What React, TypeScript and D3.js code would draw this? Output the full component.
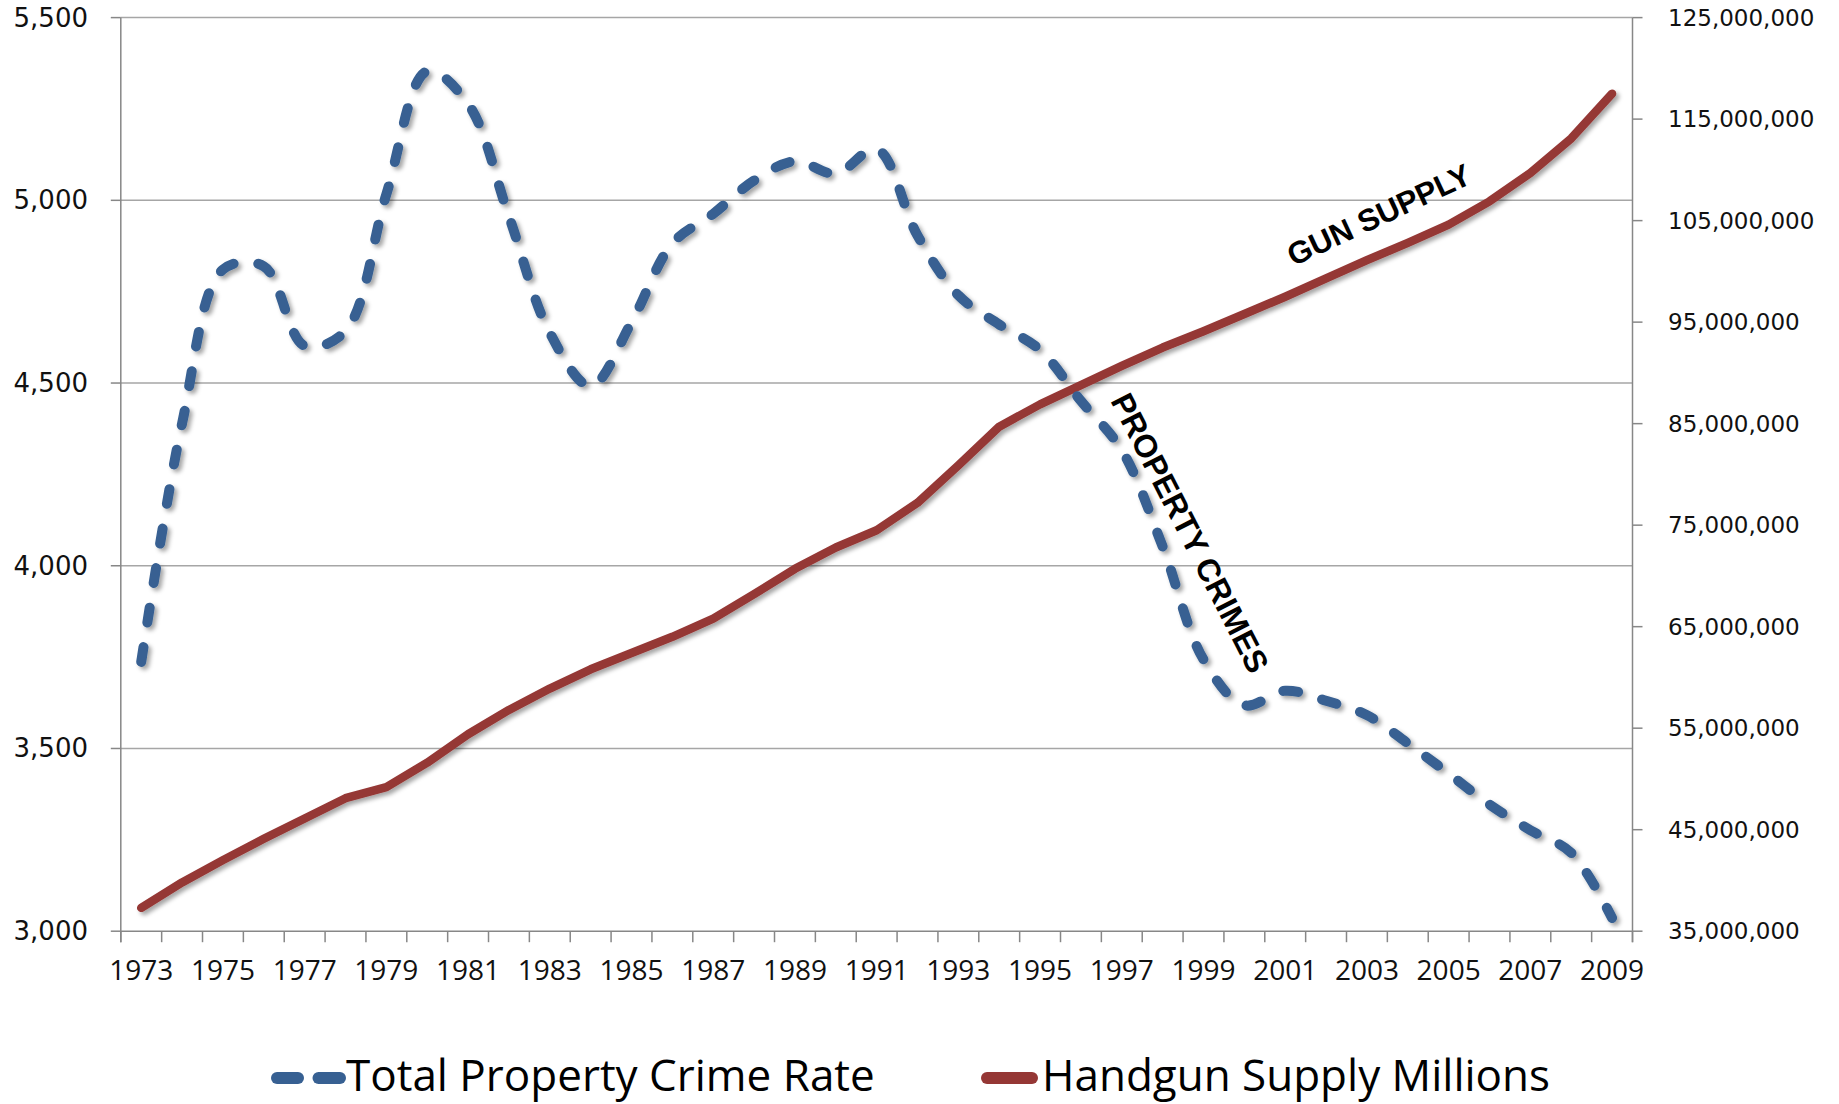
import React from "react";
import * as d3 from "d3";

const years: number[] = d3.range(1973, 2010);
const crimeRate: number[] = [
  3737.0, 4389.3, 4810.7, 4819.5, 4601.7, 4642.5, 5016.6, 5353.3, 5263.9, 4956.1,
  4637.4, 4492.1, 4666.4, 4881.8, 4963.0, 5054.0, 5107.1, 5073.1, 5140.2, 4903.7,
  4740.0, 4660.2, 4590.5, 4451.0, 4316.3, 4052.5, 3743.6, 3618.3, 3658.1, 3630.6,
  3591.2, 3514.1, 3431.5, 3346.6, 3276.4, 3214.6, 3036.1,
];
const handgunMillions: number[] = [
  37.3, 39.8, 42.0, 44.1, 46.1, 48.1, 49.2, 51.6, 54.4, 56.8,
  58.9, 60.8, 62.4, 64.0, 65.8, 68.2, 70.7, 72.8, 74.5, 77.2,
  80.9, 84.7, 86.9, 88.8, 90.7, 92.5, 94.1, 95.8, 97.5, 99.3,
  101.1, 102.8, 104.6, 106.9, 109.7, 113.1, 117.5,
];
const leftTicks: number[] = [3000, 3500, 4000, 4500, 5000, 5500];
const rightTicks: number[] = [35e6, 45e6, 55e6, 65e6, 75e6, 85e6, 95e6, 105e6, 115e6, 125e6];
const xLabelYears: number[] = years.filter((y) => (y - 1973) % 2 === 0);
const seriesNames: string[] = ["Total Property Crime Rate", "Handgun Supply Millions"];
const annotations: string[] = ["GUN SUPPLY", "PROPERTY CRIMES"];

const W = 1839;
const H = 1104;
const L = 120.8;
const R = 1632.5;
const T = 17.6;
const B = 931.2;

const BLUE = "#376092";
const RED = "#953735";
const GRID = "#a6a6a6";
const AXIS = "#878787";

export default function App() {
  const x = d3.scaleBand<number>().domain(years).range([L, R]).padding(0);
  const cx = (y: number) => (x(y) as number) + x.bandwidth() / 2;
  const yL = d3.scaleLinear().domain([3000, 5500]).range([B, T]);
  const yR = d3.scaleLinear().domain([35e6, 125e6]).range([B, T]);

  const crimeLine = d3
    .line<number>()
    .x((_, i) => cx(years[i]))
    .y((d) => yL(d))
    .curve(d3.curveCatmullRom.alpha(0.5));
  const gunLine = d3
    .line<number>()
    .x((_, i) => cx(years[i]))
    .y((d) => yR(d * 1e6));

  const fmt = d3.format(",");
  const boundaries = d3.range(years.length + 1).map((i) => L + i * x.step());

  return (
    <svg
      width={W}
      height={H}
      style={{ position: "absolute", left: 0, top: 0, background: "#fff" }}
    >
      <defs>
        <filter id="shadow" x="-10%" y="-10%" width="120%" height="120%">
          <feDropShadow dx="3" dy="3" stdDeviation="2.2" floodColor="#000" floodOpacity="0.35" />
        </filter>
      </defs>
      <rect x={0} y={0} width={W} height={H} fill="#fff" />

      {/* gridlines */}
      {leftTicks.slice(1).map((t) => (
        <line key={"g" + t} x1={L} x2={R} y1={yL(t)} y2={yL(t)} stroke={GRID} strokeWidth={1.5} />
      ))}

      {/* axes */}
      <line x1={L} x2={L} y1={T} y2={B + 11} stroke={AXIS} strokeWidth={1.5} />
      <line x1={R} x2={R} y1={T} y2={B + 11} stroke={AXIS} strokeWidth={1.5} />
      <line x1={L} x2={R} y1={B} y2={B} stroke={AXIS} strokeWidth={1.5} />
      {leftTicks.map((t) => (
        <g key={"lt" + t}>
          <line x1={L - 10} x2={L} y1={yL(t)} y2={yL(t)} stroke={AXIS} strokeWidth={1.5} />
          <text
            x={88}
            y={yL(t)}
            textAnchor="end"
            dominantBaseline="central"
            fontFamily="DejaVu Sans"
            fontSize={26}
            fill="#111"
          >
            {fmt(t)}
          </text>
        </g>
      ))}
      {rightTicks.map((t) => (
        <g key={"rt" + t}>
          <line x1={R} x2={R + 10} y1={yR(t)} y2={yR(t)} stroke={AXIS} strokeWidth={1.5} />
          <text
            x={1668}
            y={yR(t)}
            textAnchor="start"
            dominantBaseline="central"
            fontFamily="DejaVu Sans"
            fontSize={23}
            fill="#111"
          >
            {fmt(t)}
          </text>
        </g>
      ))}
      {boundaries.map((bx, i) => (
        <line key={"xt" + i} x1={bx} x2={bx} y1={B} y2={B + 11} stroke={AXIS} strokeWidth={1.5} />
      ))}
      {xLabelYears.map((yr) => (
        <text
          key={"xl" + yr}
          x={cx(yr)}
          y={980}
          textAnchor="middle"
          fontFamily="Open Sans"
          fontSize={28}
          fill="#111"
        >
          {yr}
        </text>
      ))}

      {/* series */}
      <g filter="url(#shadow)">
        <path
          d={gunLine(handgunMillions) || ""}
          fill="none"
          stroke={RED}
          strokeWidth={8.5}
          strokeLinecap="round"
          strokeLinejoin="round"
        />
        <path
          d={crimeLine(crimeRate) || ""}
          fill="none"
          stroke={BLUE}
          strokeWidth={10}
          strokeLinecap="round"
          strokeLinejoin="round"
          strokeDasharray="15 25"
        />
      </g>

      {/* annotations */}
      <text
        transform="translate(1379,215) rotate(-25)"
        textAnchor="middle"
        dominantBaseline="central"
        fontFamily="Liberation Sans, Arial"
        fontWeight="bold"
        fontSize={31}
        fill="#000"
      >
        {annotations[0]}
      </text>
      <text
        transform="translate(1190,533) rotate(63)"
        textAnchor="middle"
        dominantBaseline="central"
        fontFamily="Liberation Sans, Arial"
        fontWeight="bold"
        fontSize={32}
        fill="#000"
      >
        {annotations[1]}
      </text>

      {/* legend */}
      <g>
        <line x1={277} x2={298} y1={1078} y2={1078} stroke={BLUE} strokeWidth={12} strokeLinecap="round" />
        <line x1={318.5} x2={340} y1={1078} y2={1078} stroke={BLUE} strokeWidth={12} strokeLinecap="round" />
        <text x={346} y={1091} fontFamily="Open Sans" fontSize={44} fill="#000">
          {seriesNames[0]}
        </text>
        <line x1={987} x2={1032} y1={1078} y2={1078} stroke={RED} strokeWidth={12} strokeLinecap="round" />
        <text x={1042} y={1091} fontFamily="Open Sans" fontSize={44} fill="#000">
          {seriesNames[1]}
        </text>
      </g>
    </svg>
  );
}
